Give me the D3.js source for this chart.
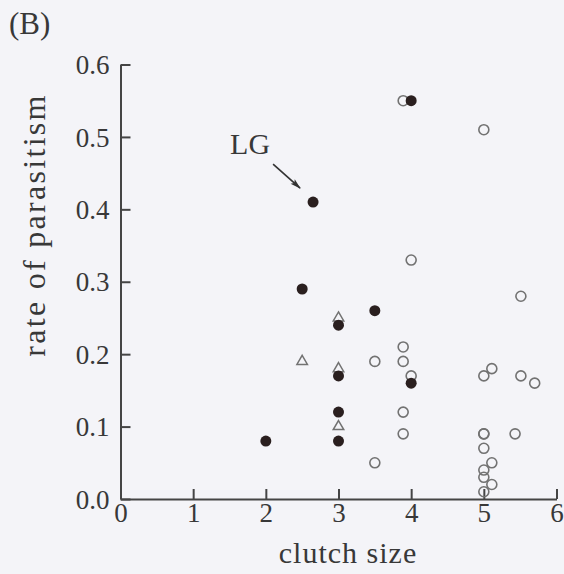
<!DOCTYPE html>
<html><head><meta charset="utf-8">
<script src="https://cdn.jsdelivr.net/npm/d3@7/dist/d3.min.js"></script>
<style>
html,body{margin:0;padding:0;background:#f4f4f8;}
svg{display:block;}
svg text{font-family:'Liberation Serif','Times New Roman',Times,'DejaVu Serif',serif;fill:#383838;}
</style></head><body>
<script>
// ---- data ----
const filledX = [2.0, 2.5, 2.65, 4.0, 3.5, 3.0, 3.0, 3.0, 3.0, 4.0];
const filledY = [0.08, 0.29, 0.41, 0.55, 0.26, 0.24, 0.17, 0.12, 0.08, 0.16];
const triX = [2.5, 3.0, 3.0, 3.0];
const triY = [0.19, 0.25, 0.18, 0.10];
const openX = [3.89, 4.0, 5.51, 5.0, 3.89, 3.89, 3.5, 3.5, 3.89, 3.89, 4.0, 5.0, 5.11, 5.51, 5.7, 5.0, 5.0, 5.43, 5.0, 5.11, 5.0, 5.0, 5.11, 5.0];
const openY = [0.55, 0.33, 0.28, 0.51, 0.21, 0.19, 0.19, 0.05, 0.12, 0.09, 0.17, 0.17, 0.18, 0.17, 0.16, 0.09, 0.09, 0.09, 0.07, 0.05, 0.04, 0.03, 0.02, 0.01];
const xTicks = [0, 1, 2, 3, 4, 5, 6];
const yTicks = [0.0, 0.1, 0.2, 0.3, 0.4, 0.5, 0.6];
const annotation = {label: "LG", x: 2.65, y: 0.41};
const panelLabel = "(B)";
const xTitle = "clutch size";
const yTitle = "rate of parasitism";

const FONT = "'Liberation Serif','Times New Roman',Times,'DejaVu Serif',serif";
const W = 564, H = 574;
const svg = d3.select("body").append("svg").attr("width", W).attr("height", H);
svg.append("rect").attr("width", W).attr("height", H).attr("fill", "#f4f4f8");

const x = d3.scaleLinear().domain([0, 6]).range([120.5, 556.5]);
const y = d3.scaleLinear().domain([0, 0.6]).range([499, 64.5]);
const axisColor = "#454545";

// x axis
const gx = svg.append("g").attr("transform", `translate(0,${y(0)})`)
  .call(d3.axisBottom(x).tickValues(xTicks).tickFormat(d3.format("d"))
    .tickSizeInner(-10).tickSizeOuter(0).tickPadding(5));
// y axis
const gy = svg.append("g").attr("transform", `translate(${x(0)},0)`)
  .call(d3.axisLeft(y).tickValues(yTicks).tickFormat(d3.format(".1f"))
    .tickSizeInner(-10).tickSizeOuter(0).tickPadding(11));
[gx, gy].forEach(g => {
  g.attr("font-family", null).attr("font-size", null);
  g.select(".domain").attr("stroke", axisColor).attr("stroke-width", 2);
  g.selectAll(".tick line").attr("stroke", axisColor).attr("stroke-width", 2);
  g.selectAll(".tick text").attr("fill", "#383838")
    .attr("font-family", FONT).attr("font-size", 27);
});
gx.selectAll(".tick text").attr("dy", "0.68em");
gy.selectAll(".tick text").attr("dy", "0.34em");

// axis titles
svg.append("text").attr("x", 348).attr("y", 563).attr("text-anchor", "middle")
  .attr("font-family", FONT).attr("font-size", 30).attr("letter-spacing", 1).text(xTitle);
svg.append("text").attr("transform", `translate(45,${225}) rotate(-90)`)
  .attr("text-anchor", "middle").attr("font-family", FONT).attr("font-size", 32)
  .attr("letter-spacing", 2.3).text(yTitle);
svg.append("text").attr("x", 9).attr("y", 34).attr("font-family", FONT).attr("font-size", 31).text(panelLabel);

// open circles
svg.append("g").selectAll("circle").data(openX.map((v, i) => [v, openY[i]])).join("circle")
  .attr("cx", d => x(d[0])).attr("cy", d => y(d[1])).attr("r", 5)
  .attr("fill", "none").attr("stroke", "#727272").attr("stroke-width", 1.6);
// triangles
const tri = d3.symbol().type(d3.symbolTriangle).size(48);
svg.append("g").selectAll("path").data(triX.map((v, i) => [v, triY[i]])).join("path")
  .attr("d", tri).attr("transform", d => `translate(${x(d[0])},${y(d[1])})`)
  .attr("fill", "#f4f4f8").attr("stroke", "#727272").attr("stroke-width", 1.5);
// filled circles
svg.append("g").selectAll("circle").data(filledX.map((v, i) => [v, filledY[i]])).join("circle")
  .attr("cx", d => x(d[0])).attr("cy", d => y(d[1])).attr("r", 5.5)
  .attr("fill", "#2a1f1f");

// annotation LG
const ax = x(annotation.x), ay = y(annotation.y);
svg.append("defs").append("marker").attr("id", "ah").attr("viewBox", "0 0 12 10")
  .attr("refX", 11).attr("refY", 5).attr("markerWidth", 12).attr("markerHeight", 9)
  .attr("markerUnits", "userSpaceOnUse").attr("orient", "auto")
  .append("path").attr("d", "M0,1.5 L12,5 L0,8.5 L2.5,5 Z").attr("fill", "#333");
svg.append("line").attr("x1", ax - 40).attr("y1", ay - 38).attr("x2", ax - 13).attr("y2", ay - 14)
  .attr("stroke", "#333").attr("stroke-width", 1.6).attr("marker-end", "url(#ah)");
svg.append("text").attr("x", ax - 83).attr("y", ay - 48).attr("font-family", FONT).attr("font-size", 30).text(annotation.label);
</script>
</body></html>
